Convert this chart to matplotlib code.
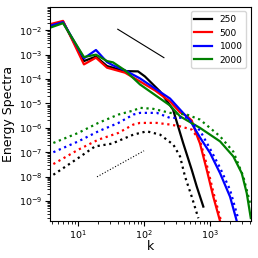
import numpy as np
import matplotlib
matplotlib.use("Agg")
import matplotlib.pyplot as plt

labels = ["250", "500", "1000", "2000"]
colors = ["black", "red", "blue", "green"]

# Energy spectra (solid)
k_e250 = [3.77, 5.93, 12.3, 18.7, 27.5, 51.5, 81.1, 103, 175, 275, 390, 528, 629, 791]
e250 = [0.0139, 0.0224, 5.46e-4, 8.28e-4, 3.40e-4, 2.11e-4, 2.06e-4, 1.28e-4, 3.09e-5,
        5.6e-6, 2.45e-7, 1.9e-8, 3.9e-9, 5.9e-10]

k_e500 = [3.77, 5.93, 12.3, 18.7, 27.5, 51.5, 86.9, 147, 248, 351, 448, 528, 629, 705, 891, 1122, 1418]
e500 = [0.0177, 0.0242, 3.98e-4, 7.5e-4, 2.92e-4, 1.82e-4, 7.96e-5, 3.4e-5, 1.2e-5,
        4.3e-6, 3.0e-6, 2.0e-6, 5.0e-7, 2.24e-7, 1.9e-8, 1.47e-9, 1.5e-10]

k_e1000 = [3.77, 5.93, 12.3, 18.7, 27.5, 33.9, 51.5, 86.9, 248, 351, 498, 705, 1000, 1418, 2009, 2540]
e1000 = [0.0153, 0.0214, 7.05e-4, 1.55e-3, 4.95e-4, 3.63e-4, 2.26e-4, 1.06e-4, 1.58e-5,
         5.6e-6, 2.0e-6, 4.0e-7, 9.3e-8, 1.38e-8, 1.5e-9, 1.5e-10]

k_e2000 = [3.77, 5.93, 12.3, 18.7, 27.5, 33.9, 51.5, 86.9, 248, 351, 705, 1418, 2254, 3020, 3597, 4140]
e2000 = [0.0127, 0.0195, 7.96e-4, 1.0e-3, 5.46e-4, 4.82e-4, 2.26e-4, 6.0e-5, 8.2e-6,
         2.97e-6, 9.9e-7, 2.78e-7, 6.7e-8, 1.39e-8, 2.1e-9, 2.0e-10]

# Second quantity (dotted)
k_d250 = [4.23, 10.1, 18.1, 32.4, 68.8, 110, 175, 278, 351, 418, 528, 665]
d250 = [1.19e-8, 5.8e-8, 1.73e-7, 2.24e-7, 5.25e-7, 7.2e-7, 5.25e-7, 2.04e-7, 6.7e-8,
        1.0e-8, 1.5e-9, 1.96e-10]

k_d500 = [4.23, 10.1, 20.3, 40.8, 68.8, 86.9, 156, 248, 351, 528, 705, 891, 1122, 1469]
d500 = [3.27e-8, 1.27e-7, 3.27e-7, 6.17e-7, 1.36e-6, 1.59e-6, 1.59e-6, 1.36e-6, 1.15e-6,
        8.5e-7, 2.95e-7, 3.1e-8, 2.3e-9, 1.5e-10]

k_d1000 = [4.23, 10.1, 20.3, 40.8, 68.8, 86.9, 156, 248, 444, 705, 1000, 1418, 2009, 2656]
d1000 = [1.0e-7, 2.78e-7, 7.2e-7, 1.58e-6, 3.49e-6, 4.1e-6, 4.1e-6, 2.55e-6, 2.6e-6,
         7.7e-7, 1.39e-7, 2.3e-8, 2.86e-9, 2.0e-10]

k_d2000 = [4.23, 10.1, 20.3, 40.8, 68.8, 86.9, 138, 248, 444, 705, 1418, 2254, 3197, 4036]
d2000 = [2.4e-7, 6.2e-7, 1.59e-6, 3.49e-6, 5.1e-6, 6.6e-6, 6.0e-6, 4.1e-6, 3.5e-6,
         2.17e-6, 4.47e-7, 1.05e-7, 1.0e-8, 8.3e-10]

# reference slopes
ref1_k = [40, 200]
ref1_amp, ref1_exp = 0.011, -5.0 / 3.0
ref2_k = [19.4, 100]
ref2_amp, ref2_exp = 9.8e-9, 1.5

fig = plt.figure(figsize=(2.58, 2.58), dpi=100)
ax = fig.add_axes([0.194, 0.143, 0.778, 0.830])

solid = [(k_e250, e250), (k_e500, e500), (k_e1000, e1000), (k_e2000, e2000)]
dotted = [(k_d250, d250), (k_d500, d500), (k_d1000, d1000), (k_d2000, d2000)]
for (k, e), lab, c in zip(solid, labels, colors):
    ax.plot(k, e, color=c, lw=1.6, label=lab)
for (k, e), c in zip(dotted, colors):
    ax.plot(k, e, color=c, lw=1.6, ls=":")

r1k = np.array(ref1_k, dtype=float)
ax.plot(r1k, ref1_amp * (r1k / r1k[0]) ** ref1_exp, color="black", lw=0.8)
r2k = np.array(ref2_k, dtype=float)
ax.plot(r2k, ref2_amp * (r2k / r2k[0]) ** ref2_exp, color="black", lw=0.8, ls=":")

ax.set_xscale("log")
ax.set_yscale("log")
ax.set_xlim(3.77, 4140)
ax.set_ylim(1.5e-10, 0.09)
ax.tick_params(labelsize=6.8, pad=2)
ax.set_xlabel("k", fontsize=9, labelpad=-1)
ax.set_ylabel("Energy Spectra", fontsize=9, labelpad=3)
ax.legend(loc="upper right", fontsize=6.5, handlelength=2.0)

fig.savefig("out.png", dpi=100)
